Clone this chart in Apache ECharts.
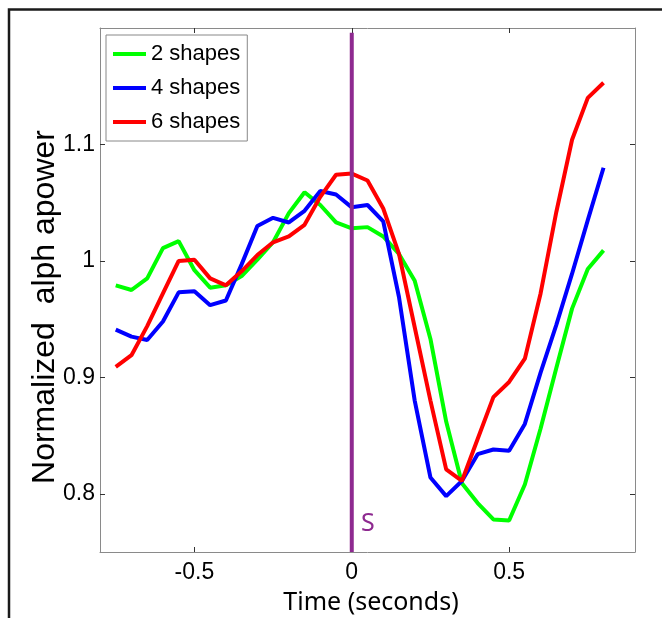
<!DOCTYPE html>
<html><head><meta charset="utf-8">
<script src="https://cdn.jsdelivr.net/npm/echarts@6/dist/echarts.min.js"></script>
<style>html,body{margin:0;padding:0;background:#fff}#c{width:662px;height:618px}</style>
</head><body><div id="c"></div>
<script>
const times = [-0.75,-0.7,-0.65,-0.6,-0.55,-0.5,-0.45,-0.4,-0.35,-0.3,-0.25,-0.2,-0.15,-0.1,-0.05,0,
  0.05,0.1,0.15,0.2,0.25,0.3,0.35,0.4,0.45,0.5,0.55,0.6,0.65,0.7,0.75,0.8];
const shapes2 = [0.979,0.975,0.985,1.011,1.017,0.992,0.977,0.979,0.987,1.001,1.016,1.041,1.059,1.048,1.033,1.028,
  1.029,1.021,1.006,0.983,0.933,0.862,0.809,0.792,0.778,0.777,0.808,0.856,0.908,0.959,0.993,1.009];
const shapes4 = [0.941,0.935,0.932,0.948,0.973,0.974,0.962,0.966,0.997,1.030,1.037,1.033,1.043,1.060,1.057,1.046,
  1.048,1.034,0.969,0.880,0.814,0.798,0.811,0.834,0.838,0.837,0.860,0.904,0.945,0.989,1.035,1.080];
const shapes6 = [0.909,0.919,0.944,0.972,1.000,1.001,0.985,0.979,0.991,1.005,1.016,1.021,1.031,1.055,1.074,1.075,
  1.069,1.045,1.006,0.943,0.880,0.821,0.811,0.847,0.883,0.896,0.916,0.972,1.042,1.104,1.140,1.153];
const seriesNames = ['2 shapes','4 shapes','6 shapes'];
const xTicks = [-0.5, 0, 0.5];
const yTicks = [0.8, 0.9, 1, 1.1];
const stimulusX = [0, 0];
const stimulusY = [0.75, 1.196];

const chart = echarts.init(document.getElementById('c'), null, {renderer:'canvas'});
const pair = (xs, ys) => xs.map((t,i)=>[t, ys[i]]);
const axisLine = {show:true, onZero:false, lineStyle:{color:'#8a8a8a', width:1}};
const tick = (vals)=>({show:true, inside:true, length:5, customValues:vals, lineStyle:{color:'#333', width:1}});
const labelFont = {fontSize:23, fontFamily:'Liberation Sans', color:'#000'};
const xBase = {type:'value', min:-0.8, max:0.9, splitLine:{show:false}, axisLine:axisLine};
const yBase = {type:'value', min:0.75, max:1.2, splitLine:{show:false}, axisLine:axisLine};

const option = {
  animation:false,
  backgroundColor:'#fff',
  grid:{left:100, top:28, right:27, bottom:66},
  xAxis:[
    Object.assign({}, xBase, {position:'bottom', axisTick:tick(xTicks),
      axisLabel:Object.assign({customValues:xTicks, margin:9, formatter:v=>String(v)}, labelFont)}),
    Object.assign({}, xBase, {position:'top', axisTick:tick(xTicks), axisLabel:{show:false}})
  ],
  yAxis:[
    Object.assign({}, yBase, {position:'left', axisTick:tick(yTicks),
      axisLabel:Object.assign({customValues:yTicks, margin:5, formatter:v=>String(v)}, labelFont)}),
    Object.assign({}, yBase, {position:'right', axisTick:tick(yTicks), axisLabel:{show:false}})
  ],
  legend:{
    data:seriesNames, orient:'vertical', left:106, top:35,
    padding:[2,7,2,7], itemGap:0, itemWidth:33, itemHeight:4, icon:'rect',
    backgroundColor:'#fff', borderColor:'#888', borderWidth:1, borderRadius:0,
    textStyle:{fontSize:22, lineHeight:34, fontFamily:'Liberation Sans', color:'#000'},
    selectedMode:false, z:10
  },
  series:[
    {name:seriesNames[0], type:'line', data:pair(times, shapes2), symbol:'none',
      lineStyle:{width:4, color:'#00ff00'}, itemStyle:{color:'#00ff00'}, z:2},
    {name:seriesNames[1], type:'line', data:pair(times, shapes4), symbol:'none',
      lineStyle:{width:4, color:'#0000ff'}, itemStyle:{color:'#0000ff'}, z:3},
    {name:seriesNames[2], type:'line', data:pair(times, shapes6), symbol:'none',
      lineStyle:{width:4, color:'#ff0000'}, itemStyle:{color:'#ff0000'}, z:4},
    {name:'S', type:'line', data:pair(stimulusX, stimulusY), symbol:'none',
      lineStyle:{width:4, color:'#8e2a90'}, itemStyle:{color:'#8e2a90'}, z:5}
  ],
  graphic:[
    {type:'polyline', shape:{points:[[9,618],[9,9.5],[662,9.5]]}, style:{stroke:'#1a1a1a', lineWidth:2.5, fill:null}, silent:true},
    {type:'text', x:45, y:307, rotation:Math.PI/2,
      style:{text:'Normalized  alph apower', font:'32px "Liberation Sans"', fill:'#000', align:'center', verticalAlign:'middle'}},
    {type:'text', x:371, y:603,
      style:{text:'Time (seconds)', font:'25px "Noto Sans"', fill:'#000', align:'center', verticalAlign:'middle'}},
    {type:'text', x:361, y:524,
      style:{text:'S', font:'25px "Noto Sans"', fill:'#8e2a90', align:'left', verticalAlign:'middle'}}
  ]
};
chart.setOption(option);
</script></body></html>
